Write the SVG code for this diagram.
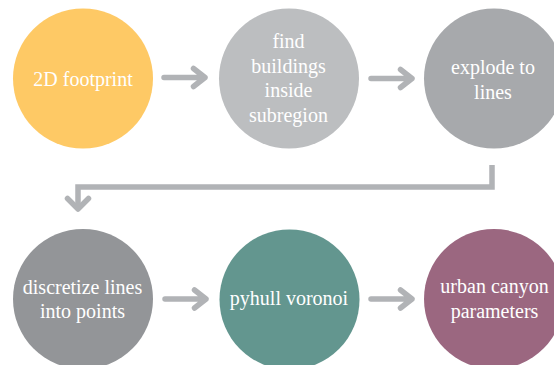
<svg xmlns="http://www.w3.org/2000/svg" width="554" height="365" viewBox="0 0 554 365">
<style>
.lbl{font-family:"Liberation Serif","Times New Roman",serif;font-size:20px;fill:#ffffff;text-anchor:middle}
.conn{fill:none;stroke:#b1b3b6;stroke-width:5.5}
.rnd{stroke-linecap:round;stroke-linejoin:round}
</style>
<rect width="554" height="365" fill="#ffffff"/>
<g id="n1"><circle cx="83" cy="78.5" r="70" fill="#fec965"/><text class="lbl" x="83" y="86">2D footprint</text></g>
<g id="n2"><circle cx="289" cy="78.5" r="70" fill="#bcbec0"/><text class="lbl" x="288.5" y="48">find</text><text class="lbl" x="288.5" y="73">buildings</text><text class="lbl" x="288.5" y="97">inside</text><text class="lbl" x="288.5" y="122">subregion</text></g>
<g id="n3"><circle cx="494" cy="78.5" r="70" fill="#a7a9ac"/><text class="lbl" x="493" y="74">explode to</text><text class="lbl" x="493" y="99">lines</text></g>
<g id="n4"><circle cx="83" cy="299" r="70" fill="#939598"/><text class="lbl" x="82.5" y="294">discretize lines</text><text class="lbl" x="82.5" y="318">into points</text></g>
<g id="n5"><circle cx="289.5" cy="299.5" r="70" fill="#63968f"/><text class="lbl" x="289" y="305">pyhull voronoi</text></g>
<g id="n6"><circle cx="494" cy="299" r="70" fill="#9b6780"/><text class="lbl" x="494.5" y="293">urban canyon</text><text class="lbl" x="494.5" y="318">parameters</text></g>
<g id="connectors">
<path class="conn rnd" d="M164 77.5H205M193.5 68.5L205 77.5L193.5 86.5"/>
<path class="conn rnd" d="M371 78.5H412M400.5 69.5L412 78.5L400.5 87.5"/>
<path class="conn" d="M492 165V187H78V208"/>
<path class="conn rnd" d="M67.5 198.5L78 209L88.5 198.5"/>
<path class="conn rnd" d="M165 299H206M194.5 290L206 299L194.5 308"/>
<path class="conn rnd" d="M371 299H412M400.5 290L412 299L400.5 308"/>
</g>
</svg>
